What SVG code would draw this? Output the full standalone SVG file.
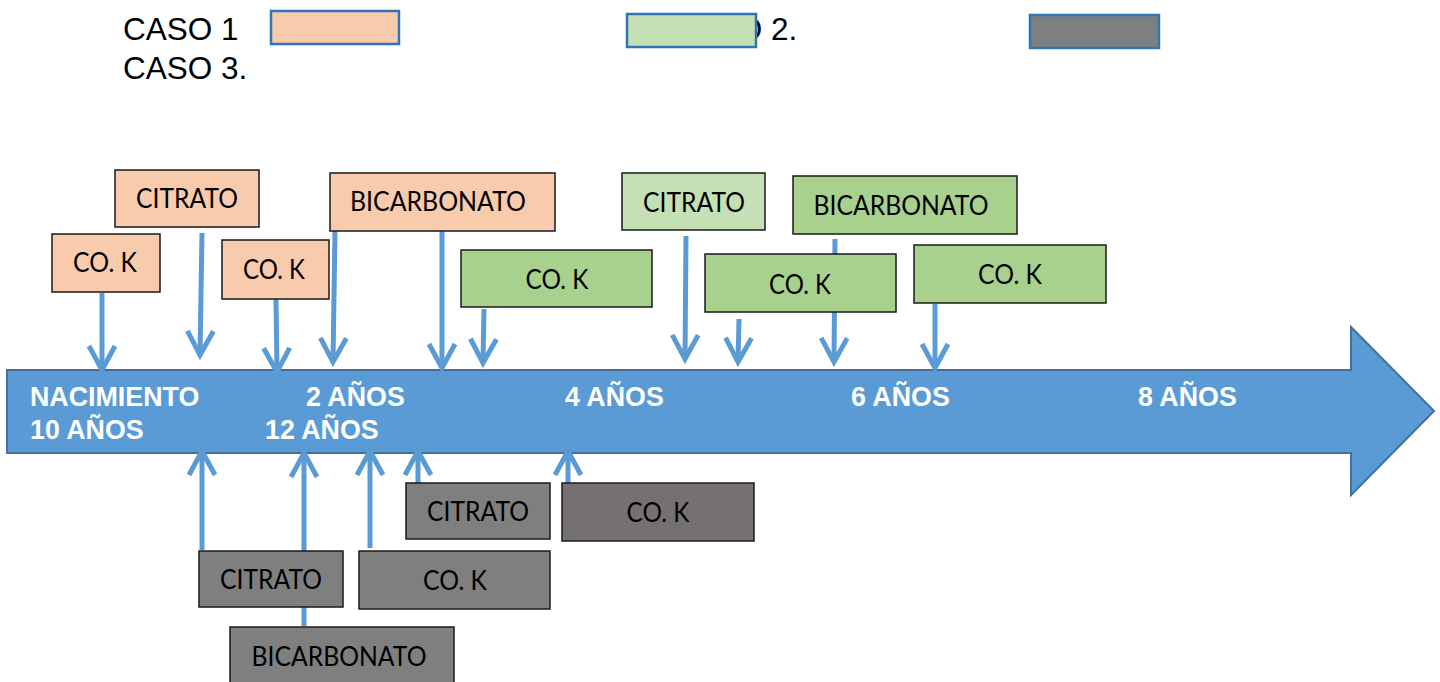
<svg xmlns="http://www.w3.org/2000/svg" width="1440" height="682" viewBox="0 0 1440 682">
  <style>
    .legend { font-family: "Liberation Sans", Arial, sans-serif; font-size: 31.5px; fill: #000; }
    .axis { font-family: "Liberation Sans", Arial, sans-serif; font-size: 26.8px; font-weight: bold; fill: #fff; }
    .lab { font-family: Lato, "Liberation Sans", sans-serif; font-size: 26px; fill: #000; text-anchor: middle; }
    .box { stroke: #1a1a1a; stroke-width: 1.5; }
    .c1 { fill: #F8CBAD; }
    .c2l { fill: #C5E0B4; }
    .c2 { fill: #A9D18E; }
    .c3 { fill: #7F7F7F; }
    .c3d { fill: #767171; }
    .key { stroke: #2E75B6; stroke-width: 2.5; }
    .conn { fill: none; stroke: #5B9BD5; stroke-width: 5; marker-end: url(#head); }
  </style>
  <defs>
    <marker id="head" markerUnits="userSpaceOnUse" orient="auto" refX="0" refY="0" markerWidth="40" markerHeight="40" overflow="visible">
      <path d="M -24,-13 L 0,0 L -24,13" fill="none" stroke="#5B9BD5" stroke-width="5" stroke-linejoin="miter"/>
    </marker>
  </defs>

  <rect width="1440" height="682" fill="#fff"/>

  <!-- key -->
  <g id="legend">
    <text class="legend" x="123" y="40">CASO 1</text>
    <text class="legend" x="123" y="79">CASO 3.</text>
    <text class="legend" x="673" y="40">CASO 2.</text>
    <rect class="key c1" x="271" y="11" width="128" height="33"/>
    <rect class="key c2l" x="627" y="14" width="129" height="33"/>
    <rect class="key c3" x="1030" y="15" width="129" height="33"/>
  </g>

  <!-- timeline arrow -->
  <g id="timeline">
    <polygon points="7,370 1351,370 1351,327 1434,411 1351,495 1351,453 7,453" fill="#5B9BD5" stroke="#41719C" stroke-width="2"/>
    <text class="axis" x="30" y="406">NACIMIENTO</text>
    <text class="axis" x="30" y="439">10 AÑOS</text>
    <text class="axis" x="306" y="406">2 AÑOS</text>
    <text class="axis" x="265" y="439">12 AÑOS</text>
    <text class="axis" x="565" y="406">4 AÑOS</text>
    <text class="axis" x="851" y="406">6 AÑOS</text>
    <text class="axis" x="1138" y="406">8 AÑOS</text>
  </g>

  <!-- connectors -->
  <g id="connectors">
    <path class="conn" d="M102,293 L102,370"/>
    <path class="conn" d="M202,233 L200,355"/>
    <path class="conn" d="M276,299 L277,372"/>
    <path class="conn" d="M335,231 L333,362"/>
    <path class="conn" d="M442,231 L442,368"/>
    <path class="conn" d="M484,309 L483,363"/>
    <path class="conn" d="M686,236 L685,359"/>
    <path class="conn" d="M739,319 L738,362"/>
    <path class="conn" d="M835,239 L834,362"/>
    <path class="conn" d="M935,304 L935,368"/>
    <path class="conn" d="M202,550 L202,451"/>
    <path class="conn" d="M304,626 L304,453"/>
    <path class="conn" d="M370,548 L370,451"/>
    <path class="conn" d="M418,485 L418,451"/>
    <path class="conn" d="M568,483 L568,451"/>
  </g>

  <!-- case 1 -->
  <g id="c1-citrato"><rect class="box c1" x="115" y="170" width="144" height="57"/><text class="lab" x="187" y="208" textLength="102" lengthAdjust="spacingAndGlyphs">CITRATO</text></g>
  <g id="c1-cok-a"><rect class="box c1" x="52" y="234" width="108" height="58"/><text class="lab" x="105" y="272" textLength="64" lengthAdjust="spacingAndGlyphs">CO. K</text></g>
  <g id="c1-cok-b"><rect class="box c1" x="222" y="240" width="107" height="59"/><text class="lab" x="274" y="279" textLength="62" lengthAdjust="spacingAndGlyphs">CO. K</text></g>
  <g id="c1-bicarbonato"><rect class="box c1" x="330" y="173" width="225" height="58"/><text class="lab" x="438" y="211" textLength="176" lengthAdjust="spacingAndGlyphs">BICARBONATO</text></g>

  <!-- case 2 -->
  <g id="c2-cok-a"><rect class="box c2" x="461" y="250" width="191" height="57"/><text class="lab" x="557" y="289" textLength="63" lengthAdjust="spacingAndGlyphs">CO. K</text></g>
  <g id="c2-citrato"><rect class="box c2l" x="622" y="173" width="143" height="57"/><text class="lab" x="694" y="212" textLength="102" lengthAdjust="spacingAndGlyphs">CITRATO</text></g>
  <g id="c2-bicarbonato"><rect class="box c2" x="793" y="176" width="224" height="58"/><text class="lab" x="901" y="215" textLength="175" lengthAdjust="spacingAndGlyphs">BICARBONATO</text></g>
  <g id="c2-cok-b"><rect class="box c2" x="705" y="254" width="191" height="58"/><text class="lab" x="800" y="294" textLength="62" lengthAdjust="spacingAndGlyphs">CO. K</text></g>
  <g id="c2-cok-c"><rect class="box c2" x="914" y="245" width="192" height="58"/><text class="lab" x="1010" y="284" textLength="64" lengthAdjust="spacingAndGlyphs">CO. K</text></g>

  <!-- case 3 -->
  <g id="c3-citrato-a"><rect class="box c3" x="199" y="551" width="144" height="56"/><text class="lab" x="271" y="589" textLength="102" lengthAdjust="spacingAndGlyphs">CITRATO</text></g>
  <g id="c3-cok-a"><rect class="box c3" x="359" y="551" width="191" height="58"/><text class="lab" x="455" y="590" textLength="64" lengthAdjust="spacingAndGlyphs">CO. K</text></g>
  <g id="c3-citrato-b"><rect class="box c3" x="406" y="483" width="144" height="56"/><text class="lab" x="478" y="521" textLength="102" lengthAdjust="spacingAndGlyphs">CITRATO</text></g>
  <g id="c3-cok-b"><rect class="box c3d" x="562" y="483" width="192" height="58"/><text class="lab" x="658" y="522" textLength="63" lengthAdjust="spacingAndGlyphs">CO. K</text></g>
  <g id="c3-bicarbonato"><rect class="box c3" x="230" y="627" width="224" height="64"/><text class="lab" x="339" y="666" textLength="175" lengthAdjust="spacingAndGlyphs">BICARBONATO</text></g>
</svg>
